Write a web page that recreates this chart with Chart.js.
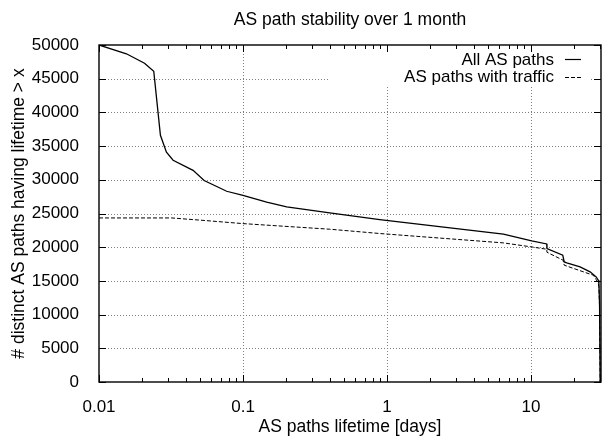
<!DOCTYPE html>
<html>
<head>
<meta charset="utf-8">
<script src="https://cdn.jsdelivr.net/npm/chart.js@4.4.1/dist/chart.umd.min.js"></script>
<style>
  html, body { margin: 0; padding: 0; background: #fff; }
  #wrap { width: 602px; height: 436px; }
</style>
</head>
<body>
<div id="wrap"><canvas id="chart" width="602" height="436"></canvas></div>
<script>
const FONT = '"Liberation Sans", Arial, Helvetica, sans-serif';

const chartTitle = 'AS path stability over 1 month';
const xTitle = 'AS paths lifetime [days]';
const yTitle = '# distinct AS paths having lifetime > x';
const seriesNames = ['All AS paths', 'AS paths with traffic'];

// lifetime in days (log axis) / number of paths still alive
const allX = [0.01, 0.0155, 0.0207, 0.024, 0.0267, 0.0294, 0.0327, 0.045, 0.0537, 0.077, 0.1, 0.146, 0.201, 0.4, 0.89, 6.43, 10.1, 12.85, 12.9, 16.6, 17.0, 17.7, 21.9, 25.7, 28.3, 29.3, 29.6, 29.9, 30.2];
const allY = [50000, 48700, 47300, 46100, 36600, 34100, 32900, 31400, 29900, 28300, 27700, 26700, 25970, 25080, 24100, 21930, 20930, 20480, 19780, 18810, 17820, 17680, 17080, 16340, 15600, 15110, 14620, 11660, 0];

const trafX = [0.01, 0.032, 0.055, 0.1, 0.4, 0.89, 6.43, 10.1, 12.85, 12.9, 16.7, 17.0, 25.7, 27.1, 28.3, 29.3, 29.6, 29.9, 30.2];
const trafY = [24340, 24340, 23950, 23500, 22670, 22030, 20640, 20040, 19700, 19250, 18070, 17330, 16000, 15850, 15210, 14600, 14130, 11000, 0];

const xTickLabels = ['0.01', '0.1', '1', '10'];
const yTickValues = [0, 5000, 10000, 15000, 20000, 25000, 30000, 35000, 40000, 45000, 50000];

function fmt(v) {
    return Number(v.toPrecision(6)).toString();
}
function significand(v) {
    return v / Math.pow(10, Math.floor(Math.log10(v) + 1e-9));
}
function isDecade(v) {
    return Math.abs(significand(v) - 1) < 1e-6;
}
function toPoints(xs, ys) {
    return xs.map((x, i) => ({ x: x, y: ys[i] }));
}

// gnuplot look: dotted grid, inward ticks, boxed legend, titles
const gnuplotFrame = {
    id: 'gnuplotFrame',
    beforeDatasetsDraw(chart) {
        const { ctx, chartArea: a, scales: { x, y } } = chart;
        ctx.save();
        ctx.strokeStyle = '#808080';
        ctx.lineWidth = 1;
        ctx.setLineDash([1, 2]);
        ctx.beginPath();
        y.ticks.forEach(t => {
            if (t.value <= y.min || t.value >= y.max) return;
            const py = Math.round(y.getPixelForValue(t.value)) + 0.5;
            ctx.moveTo(a.left, py);
            ctx.lineTo(a.right, py);
        });
        x.ticks.forEach(t => {
            if (!isDecade(t.value) || t.value <= x.min * 1.001 || t.value >= x.max) return;
            const px = Math.round(x.getPixelForValue(t.value)) + 0.5;
            ctx.moveTo(px, a.top);
            ctx.lineTo(px, a.bottom);
        });
        ctx.stroke();
        ctx.restore();
    },
    afterDraw(chart) {
        const { ctx, chartArea: a, scales: { x, y } } = chart;
        ctx.save();

        // legend
        ctx.fillStyle = '#fff';
        ctx.fillRect(a.right - 271, a.top + 1, 261, 39);
        ctx.fillStyle = '#000';
        ctx.font = '17px ' + FONT;
        ctx.textAlign = 'right';
        ctx.textBaseline = 'alphabetic';
        ctx.fillText(seriesNames[0], a.right - 47, a.top + 20);
        ctx.fillText(seriesNames[1], a.right - 47, a.top + 37);
        ctx.strokeStyle = '#000';
        ctx.lineWidth = 1.2;
        ctx.beginPath();
        ctx.moveTo(a.right - 36, a.top + 14.5);
        ctx.lineTo(a.right - 20, a.top + 14.5);
        ctx.stroke();
        ctx.lineWidth = 1;
        ctx.setLineDash([4, 2]);
        ctx.beginPath();
        ctx.moveTo(a.right - 36, a.top + 32.5);
        ctx.lineTo(a.right - 20, a.top + 32.5);
        ctx.stroke();
        ctx.setLineDash([]);

        // ticks
        ctx.lineWidth = 1;
        ctx.beginPath();
        y.ticks.forEach(t => {
            const py = Math.round(y.getPixelForValue(t.value)) + 0.5;
            ctx.moveTo(a.left, py); ctx.lineTo(a.left + 7, py);
            ctx.moveTo(a.right, py); ctx.lineTo(a.right - 7, py);
        });
        x.ticks.forEach(t => {
            const s = significand(t.value);
            if (Math.abs(s - Math.round(s)) > 1e-6) return;
            const len = isDecade(t.value) ? 7 : 4;
            const px = Math.round(x.getPixelForValue(t.value)) + 0.5;
            ctx.moveTo(px, a.bottom); ctx.lineTo(px, a.bottom - len);
            ctx.moveTo(px, a.top); ctx.lineTo(px, a.top + len);
        });
        ctx.stroke();

        // frame
        ctx.lineWidth = 1.4;
        ctx.strokeRect(a.left, a.top, a.right - a.left, a.bottom - a.top);

        // titles
        ctx.font = '17.5px ' + FONT;
        ctx.textAlign = 'center';
        ctx.fillText(chartTitle, (a.left + a.right) / 2, 25);
        ctx.fillText(xTitle, (a.left + a.right) / 2, 432);
        ctx.translate(23.5, (a.top + a.bottom) / 2);
        ctx.rotate(-Math.PI / 2);
        ctx.fillText(yTitle, 0, 0);
        ctx.restore();
    }
};

Chart.defaults.color = '#000';
Chart.defaults.font.family = FONT;
Chart.defaults.font.size = 17;

new Chart(document.getElementById('chart').getContext('2d'), {
    type: 'line',
    data: {
        datasets: [
            {
                label: seriesNames[0],
                data: toPoints(allX, allY),
                borderColor: '#000',
                borderWidth: 1.3,
                pointRadius: 0,
                tension: 0
            },
            {
                label: seriesNames[1],
                data: toPoints(trafX, trafY),
                borderColor: '#000',
                borderWidth: 1,
                borderDash: [4, 2],
                pointRadius: 0,
                tension: 0
            }
        ]
    },
    options: {
        responsive: false,
        animation: false,
        events: [],
        layout: { padding: { top: 45, right: 1, left: 0, bottom: 0 } },
        plugins: {
            legend: { display: false },
            title: { display: false },
            tooltip: { enabled: false }
        },
        scales: {
            x: {
                type: 'logarithmic',
                min: 0.01,
                max: 30.6,
                grid: { display: false },
                border: { display: false },
                ticks: {
                    autoSkip: false,
                    maxRotation: 0,
                    padding: 7,
                    callback: v => {
                        const s = fmt(v);
                        return xTickLabels.includes(s) ? s : '';
                    }
                },
                afterFit: scale => {
                    scale.height = 54;
                    scale.paddingLeft = 0;
                    scale.paddingRight = 0;
                }
            },
            y: {
                min: 0,
                max: 50000,
                grid: { display: false },
                border: { display: false },
                afterBuildTicks: scale => {
                    scale.ticks = yTickValues.map(v => ({ value: v }));
                },
                ticks: {
                    autoSkip: false,
                    padding: 12,
                    callback: v => String(v)
                },
                afterFit: scale => { scale.width = 99; }
            }
        }
    },
    plugins: [gnuplotFrame]
});
</script>
</body>
</html>
